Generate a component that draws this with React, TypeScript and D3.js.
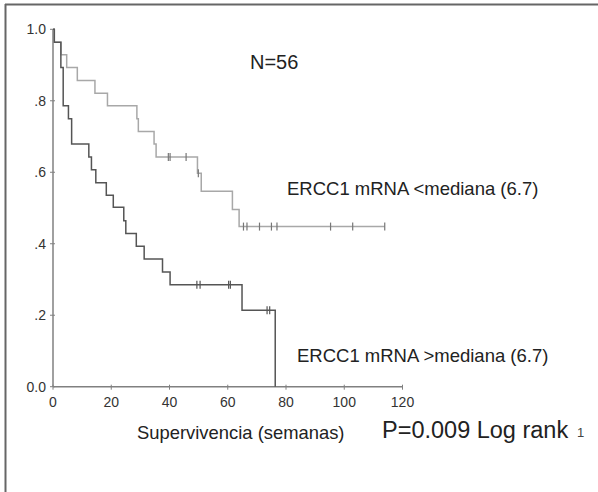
import React from "react";
import * as d3 from "d3";

// ---- Data ----
const lowTimes = [0, 0.45, 2.75, 4.7, 8.35, 14.4, 18.7, 28.8, 29.3, 34.7, 35.4, 49.6, 50.9, 61.6, 63.9];
const lowSurv = [1, 0.964, 0.929, 0.893, 0.857, 0.821, 0.786, 0.75, 0.714, 0.679, 0.643, 0.597, 0.547, 0.496, 0.448];
const lowEnd = 113.9;
const lowCensorTimes = [39.6, 40.2, 45.7, 49.9, 65.4, 66.6, 70.9, 75.0, 76.9, 95.3, 102.9, 113.9];

const highTimes = [0, 0.45, 2.7, 3.5, 5.3, 6.4, 12.3, 13.2, 14.7, 18.3, 20.7, 24.3, 25.0, 28.6, 31.3, 37.6, 40.2, 64.9, 76.3];
const highSurv = [1, 0.964, 0.893, 0.786, 0.75, 0.679, 0.643, 0.607, 0.571, 0.536, 0.502, 0.464, 0.429, 0.393, 0.357, 0.321, 0.285, 0.214, 0];
const highEnd = 76.3;
const highCensorTimes = [49.4, 50.5, 60.3, 60.9, 73.5, 74.4];

const xTicks = [0, 20, 40, 60, 80, 100, 120];
const yTicks = [0, 0.2, 0.4, 0.6, 0.8, 1.0];
const yTickLabels = ["0.0", ".2", ".4", ".6", ".8", "1.0"];

const FONT = "'Liberation Sans', Arial, sans-serif";

function survAt(times: number[], surv: number[], t: number) {
  let v = surv[0];
  for (let i = 0; i < times.length; i++) if (times[i] <= t) v = surv[i];
  return v;
}

export default function App() {
  const W = 598, H = 492;
  const x = d3.scaleLinear().domain([0, 120]).range([53, 402.5]);
  const y = d3.scaleLinear().domain([0, 1]).range([386.7, 29.3]);

  const line = d3
    .line<[number, number]>()
    .x((d) => x(d[0]))
    .y((d) => y(d[1]))
    .curve(d3.curveStepAfter);

  const lowPts: [number, number][] = lowTimes.map((t, i) => [t, lowSurv[i]] as [number, number]);
  lowPts.push([lowEnd, lowSurv[lowSurv.length - 1]]);
  const highPts: [number, number][] = highTimes.map((t, i) => [t, highSurv[i]] as [number, number]);

  const lowColor = "#a8a8a8";
  const highColor = "#555";
  const axisColor = "#808080";

  const censor = (t: number, s: number, color: string, key: string) => (
    <line key={key} x1={x(t)} x2={x(t)} y1={y(s) - 4} y2={y(s) + 4} stroke={color} strokeWidth={1.2} />
  );

  return (
    <svg width={W} height={H} style={{ position: "absolute", left: 0, top: 0, background: "#fff" }}>
      {/* frame (top and left edges) */}
      <line x1={5} x2={W} y1={4.5} y2={4.5} stroke="#666" strokeWidth={2} />
      <line x1={5.5} x2={5.5} y1={4} y2={H} stroke="#666" strokeWidth={2} />

      {/* axes */}
      <line x1={x(0)} x2={x(120)} y1={y(0)} y2={y(0)} stroke={axisColor} strokeWidth={1.5} />
      <line x1={x(0)} x2={x(0)} y1={y(0)} y2={y(1)} stroke={axisColor} strokeWidth={1.5} />
      {xTicks.map((t) => (
        <g key={"xt" + t}>
          <line x1={x(t)} x2={x(t)} y1={y(0) - 2} y2={y(0) + 3} stroke={axisColor} strokeWidth={1} />
          <text x={x(t)} y={407} textAnchor="middle" fontFamily={FONT} fontSize={14} fill="#333">
            {t}
          </text>
        </g>
      ))}
      {yTicks.map((t, i) => (
        <g key={"yt" + t}>
          <line x1={x(0) - 3} x2={x(0) + 2} y1={y(t)} y2={y(t)} stroke={axisColor} strokeWidth={1} />
          <text x={46} y={y(t) + 5} textAnchor="end" fontFamily={FONT} fontSize={14} fill="#333">
            {yTickLabels[i]}
          </text>
        </g>
      ))}

      {/* curves */}
      <path d={line(lowPts) || ""} fill="none" stroke={lowColor} strokeWidth={1.5} />
      <path d={line(highPts) || ""} fill="none" stroke={highColor} strokeWidth={1.5} />
      {lowCensorTimes.map((t, i) => censor(t, survAt(lowTimes, lowSurv, t), "#777", "lc" + i))}
      {highCensorTimes.map((t, i) => censor(t, survAt(highTimes, highSurv, t), "#555", "hc" + i))}

      {/* texts */}
      <text x={250} y={68.5} fontFamily={FONT} fontSize={20} fill="#222">N=56</text>
      <text x={287} y={195} fontFamily={FONT} fontSize={18.5} fill="#222">ERCC1 mRNA &lt;mediana (6.7)</text>
      <text x={297} y={361.5} fontFamily={FONT} fontSize={18.5} fill="#222">ERCC1 mRNA &gt;mediana (6.7)</text>
      <text x={137} y={438.5} fontFamily={FONT} fontSize={18.4} fill="#222">Supervivencia (semanas)</text>
      <text x={382} y={438} fontFamily={FONT} fontSize={23.5} fill="#222">P=0.009 Log rank</text>
      <text x={577} y={437} fontFamily={FONT} fontSize={13} fill="#444">1</text>
    </svg>
  );
}
